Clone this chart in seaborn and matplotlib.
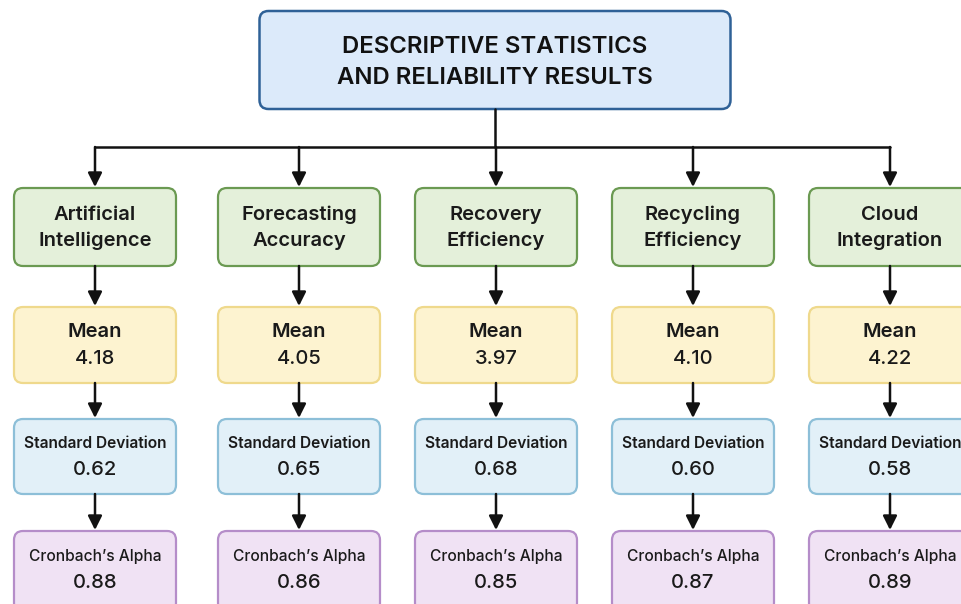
import matplotlib.pyplot as plt
import seaborn as sns
from matplotlib.patches import FancyBboxPatch

# chart content
title_lines = ["DESCRIPTIVE STATISTICS", "AND RELIABILITY RESULTS"]
constructs = ["Artificial\nIntelligence", "Forecasting\nAccuracy", "Recovery\nEfficiency",
              "Recycling\nEfficiency", "Cloud\nIntegration"]
means = ["4.18", "4.05", "3.97", "4.10", "4.22"]
std_devs = ["0.62", "0.65", "0.68", "0.60", "0.58"]
alphas = ["0.88", "0.86", "0.85", "0.87", "0.89"]

sns.set_theme(style="white")
plt.rcParams['font.family'] = ['Inter', 'DejaVu Sans']

fig = plt.figure(figsize=(9.61, 6.04), dpi=100)
ax = fig.add_axes([0, 0, 1, 1])
ax.set_xlim(0, 961)
ax.set_ylim(604, 0)
ax.axis('off')


def box(cx, top, bottom, w, face, edge, lw=1.6):
    p = FancyBboxPatch((cx - w / 2, top), w, bottom - top,
                       boxstyle="round,pad=0,rounding_size=9",
                       facecolor=face, edgecolor=edge, linewidth=lw, zorder=2)
    ax.add_patch(p)


def arrow(x, y0, y1):
    ax.annotate("", xy=(x, y1), xytext=(x, y0),
                arrowprops=dict(arrowstyle="-|>,head_length=0.7,head_width=0.35",
                                color="#111111", lw=1.8, shrinkA=0, shrinkB=0),
                zorder=3)


# title box
box(495, 11, 109, 471, "#dceafa", "#2f6197", lw=1.8)
ax.text(495, 47, title_lines[0], ha='center', va='center', fontsize=17.2,
        fontweight='semibold', color="#111111")
ax.text(495, 78, title_lines[1], ha='center', va='center', fontsize=17.2,
        fontweight='semibold', color="#111111")

centers = [95, 299, 496, 693, 890]
bw = 162

# connector lines
ax.plot([495, 495], [109, 147], color="#111111", lw=1.8, zorder=3)
ax.plot([centers[0], centers[-1]], [147, 147], color="#111111", lw=1.8, zorder=3)

for i, cx in enumerate(centers):
    arrow(cx, 147, 187)
    box(cx, 188, 266, bw, "#e4f0da", "#6b9a52")
    top_line, bottom_line = constructs[i].split("\n")
    ax.text(cx, 215, top_line, ha='center', va='center', fontsize=14.5,
            fontweight='semibold', color="#1a1a1a")
    ax.text(cx, 241, bottom_line, ha='center', va='center', fontsize=14.5,
            fontweight='semibold', color="#1a1a1a")

    arrow(cx, 266, 306)
    box(cx, 307, 383, bw, "#fdf3d0", "#efd98c")
    ax.text(cx, 332, "Mean", ha='center', va='center', fontsize=14.5,
            fontweight='semibold', color="#1a1a1a")
    ax.text(cx, 359, means[i], ha='center', va='center', fontsize=14.5,
            fontweight='medium', color="#1a1a1a")

    arrow(cx, 383, 418)
    box(cx, 419, 494, bw, "#e2f0f8", "#8dbfd8")
    ax.text(cx, 444, "Standard Deviation", ha='center', va='center', fontsize=11.2,
            fontweight='semibold', color="#1a1a1a")
    ax.text(cx, 470, std_devs[i], ha='center', va='center', fontsize=14.5,
            fontweight='medium', color="#1a1a1a")

    arrow(cx, 494, 530)
    box(cx, 531, 612, bw, "#f0e2f4", "#b58dc9")
    ax.text(cx, 556, "Cronbach\u2019s Alpha", ha='center', va='center', fontsize=11.2,
            fontweight='medium', color="#1a1a1a")
    ax.text(cx, 583, alphas[i], ha='center', va='center', fontsize=14.5,
            fontweight='medium', color="#1a1a1a")

fig.savefig("out.png", dpi=100, facecolor="white")
